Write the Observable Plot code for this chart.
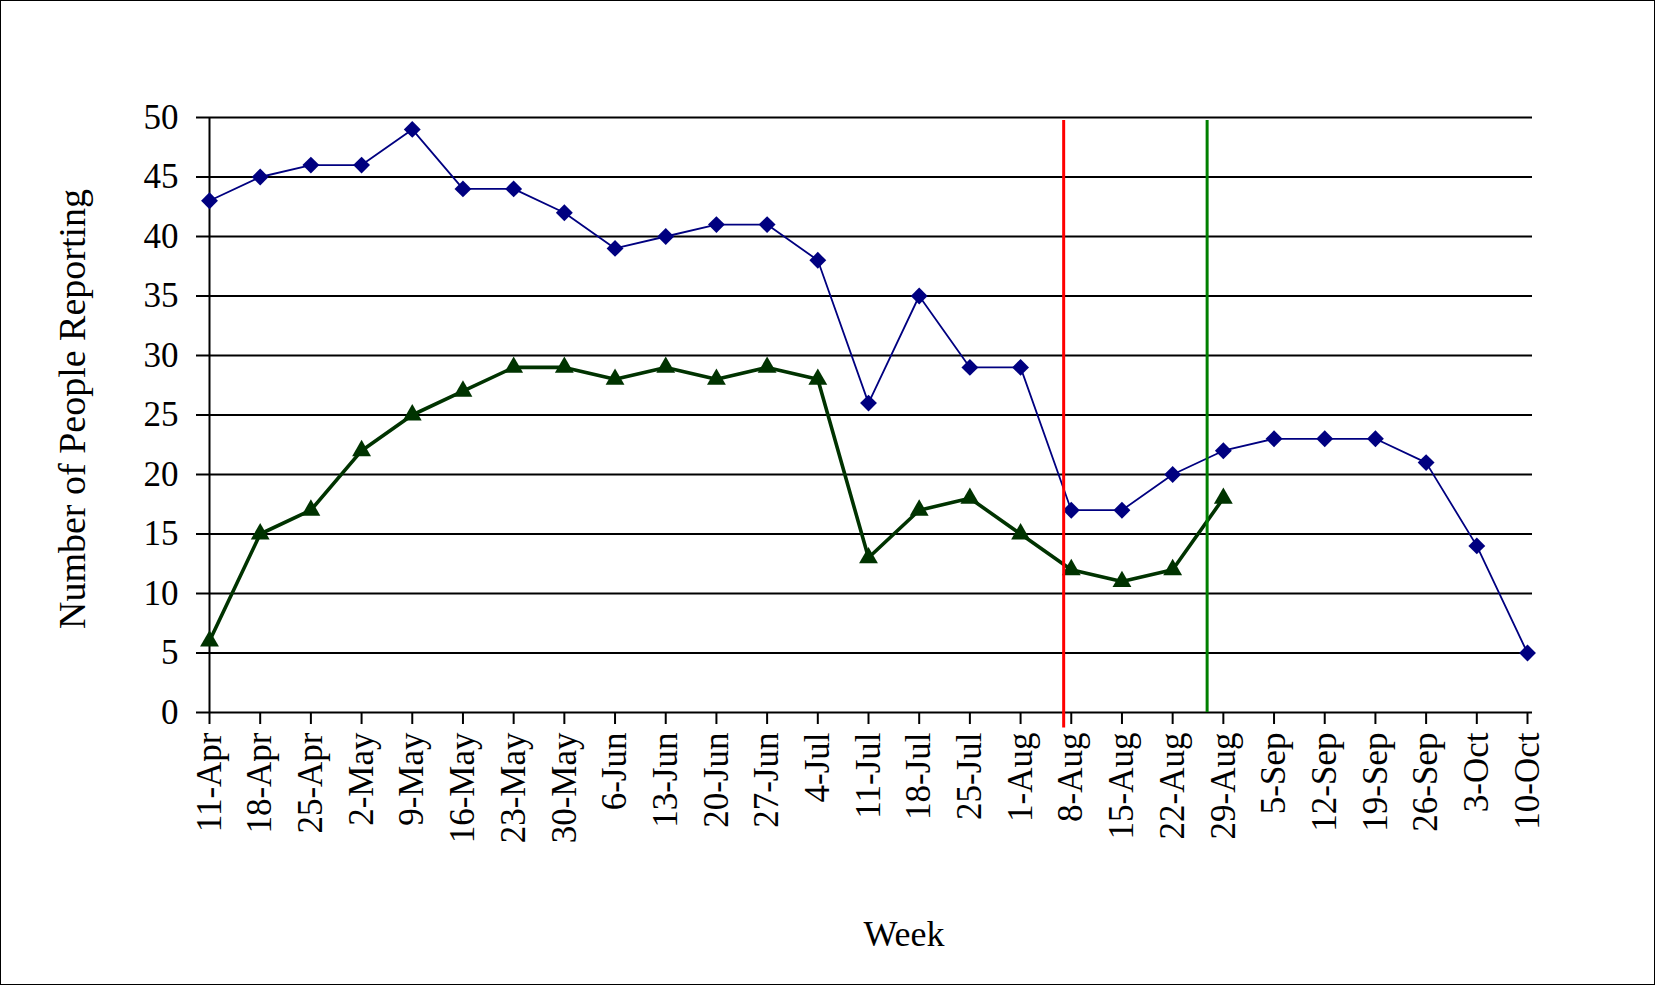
<!DOCTYPE html>
<html><head><meta charset="utf-8">
<script src="https://cdn.jsdelivr.net/npm/d3@7"></script>
<script src="https://cdn.jsdelivr.net/npm/@observablehq/plot@0.6"></script>
<style>
html,body{margin:0;padding:0;background:#fff;}
#frame{width:1655px;height:985px;box-sizing:border-box;border:1px solid #000;overflow:hidden;background:#fff;}
svg{display:block}
</style></head><body><div id="frame"></div>
<script>
const weeks = ["11-Apr","18-Apr","25-Apr","2-May","9-May","16-May","23-May","30-May","6-Jun","13-Jun","20-Jun","27-Jun","4-Jul","11-Jul","18-Jul","25-Jul","1-Aug","8-Aug","15-Aug","22-Aug","29-Aug","5-Sep","12-Sep","19-Sep","26-Sep","3-Oct","10-Oct"];
const allReporting = [43,45,46,46,49,44,44,42,39,40,41,41,38,26,35,29,29,17,17,20,22,23,23,23,21,14,5];
const subsetReporting = [6,15,17,22,25,27,29,29,28,29,28,29,28,13,17,18,15,12,11,12,18];
const eventX = [16.85, 19.68];
const eventColors = ["#ff0000", "#008000"];
const eventBottom = [-1.3, 0];
const eventTop = [49.75, 49.75];
const yTicks = [0,5,10,15,20,25,30,35,40,45,50];
const xTitle = "Week";
const yTitle = "Number of People Reporting";

const blue = allReporting.map((v, i) => ({i, v}));
const green = subsetReporting.map((v, i) => ({i, v}));
const events = eventX.map((x, k) => ({x, color: eventColors[k], y1: eventBottom[k], y2: eventTop[k]}));

const W = 1653, H = 983;
const font = "'Liberation Serif', 'Times New Roman', serif";
const chart = Plot.plot({
  width: W, height: H,
  marginLeft: 208, marginRight: 122, marginTop: 116, marginBottom: 272,
  style: {fontFamily: font, fontSize: "35px", color: "#000", background: "#fff", overflow: "visible"},
  x: {type: "linear", domain: [0, weeks.length - 1], range: [208, 1526]},
  y: {domain: [0, 50]},
  color: {type: "identity"},
  marks: [
    Plot.gridY(yTicks, {stroke: "#000", strokeOpacity: 1, strokeWidth: 2}),
    Plot.ruleX([0], {y1: 0, y2: 50, stroke: "#000", strokeWidth: 2}),
    Plot.axisY({ticks: yTicks, tickSize: 13, tickPadding: 18, strokeWidth: 2, fontSize: 35, label: null}),
    Plot.axisX({ticks: weeks.map((w, i) => i), tickFormat: i => weeks[i], tickRotate: -90, tickSize: 12, tickPadding: 8, strokeWidth: 2, fontSize: 35, label: null}),
    Plot.text([yTitle], {frameAnchor: "left", rotate: -90, dx: -137, dy: -6, fontSize: 38, textAnchor: "middle", lineAnchor: "middle", fill: "#000"}),
    Plot.text([xTitle], {frameAnchor: "bottom", dx: 33, dy: 222, fontSize: 36, textAnchor: "middle", lineAnchor: "middle", fill: "#000"}),
    Plot.line(green, {x: "i", y: "v", stroke: "#003300", strokeWidth: 3.6}),
    Plot.line(blue, {x: "i", y: "v", stroke: "#000080", strokeWidth: 1.8}),
    Plot.dot(green, {x: "i", y: "v", symbol: "triangle", r: 7, fill: "#003300"}),
    Plot.dot(blue, {x: "i", y: "v", symbol: "diamond2", r: 7.6, fill: "#000080"}),
    Plot.ruleX(events, {x: "x", y1: "y1", y2: "y2", stroke: "color", strokeWidth: 3})
  ]
});
document.getElementById("frame").appendChild(chart);
</script></body></html>
